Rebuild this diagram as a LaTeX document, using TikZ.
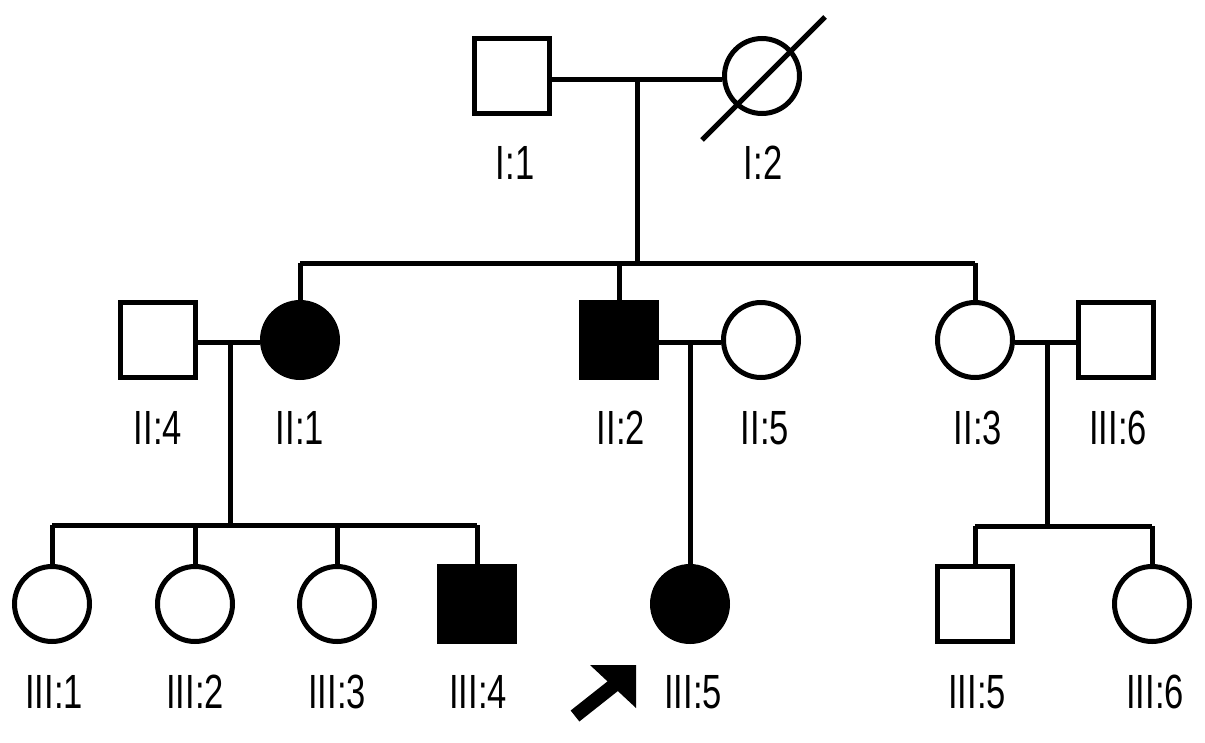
\documentclass[tikz,border=0pt]{standalone}
\usepackage{fontspec}
\setmainfont{Liberation Sans}
\usepackage{graphicx}
\begin{document}
\begin{tikzpicture}[x=1pt,y=-1pt,
  line width=5pt,
  male/.style={draw,rectangle,minimum size=75pt,inner sep=0pt,line width=5pt,fill=white},
  female/.style={draw,circle,minimum size=75pt,inner sep=0pt,line width=5pt,fill=white},
  aff/.style={fill=black},
  lbl/.style={inner sep=0pt,font=\fontsize{48}{48}\selectfont},
  link/.style={line width=5pt}]
\useasboundingbox (0,0) rectangle (1205,742);
% Generation I
\node[male] (I1) at (512,76) {};
\node[female] (I2) at (762,76) {};
\coordinate (d1) at (702,140);
\coordinate (d2) at (825,17);
\draw[link] (d1) -- (d2);
\node[lbl] (lI1) at (515,163) {\scalebox{0.72}[1]{I:1}};
\node[lbl] (lI2) at (763,163) {\scalebox{0.72}[1]{I:2}};
\coordinate (mI) at (637,79);
\coordinate (sII) at (637,263);
\draw[link] (I1.east |- mI) -- (I2.west |- mI);
\draw[link] (mI) -- (sII);
% Generation II
\node[male] (II4) at (158,340) {};
\node[female,aff] (II1) at (300,340) {};
\node[male,aff] (II2) at (619,340) {};
\node[female] (II5) at (761,340) {};
\node[female] (II3) at (975,340) {};
\node[male] (III6a) at (1116,340) {};
\node[lbl] (lII4) at (158,428) {\scalebox{0.72}[1]{II:4}};
\node[lbl] (lII1) at (300,428) {\scalebox{0.72}[1]{II:1}};
\node[lbl] (lII2) at (621,428) {\scalebox{0.72}[1]{II:2}};
\node[lbl] (lII5) at (765,428) {\scalebox{0.72}[1]{II:5}};
\node[lbl] (lII3) at (978,428) {\scalebox{0.72}[1]{II:3}};
\node[lbl] (lIII6a) at (1118,428) {\scalebox{0.72}[1]{III:6}};
\draw[link] (II1.north |- sII) -- (II3.north |- sII);
\draw[link] (II1.north |- sII) -- (II1.north);
\draw[link] (II2.north |- sII) -- (II2.north);
\draw[link] (II3.north |- sII) -- (II3.north);
% marriages gen II
\coordinate (mA) at (230,342);
\coordinate (sA) at (230,525);
\draw[link] (II4.east |- mA) -- (II1.west |- mA);
\draw[link] (mA) -- (sA);
\coordinate (mB) at (690,342);
\draw[link] (II2.east |- mB) -- (II5.west |- mB);
\coordinate (mC) at (1047,342);
\coordinate (sC) at (1047,526);
\draw[link] (II3.east |- mC) -- (III6a.west |- mC);
\draw[link] (mC) -- (sC);
% Generation III
\node[female] (III1) at (52,604) {};
\node[female] (III2) at (195,604) {};
\node[female] (III3) at (337,604) {};
\node[male,aff] (III4) at (477,604) {};
\node[female,aff] (III5p) at (690,604) {};
\node[male] (III5) at (975,604) {};
\node[female] (III6) at (1152,604) {};
\draw[link] (mB) -- (III5p.north);
\draw[link] (III1.north |- sA) -- (III4.north |- sA);
\foreach \n in {III1,III2,III3,III4}{\draw[link] (\n.north |- sA) -- (\n.north);}
\draw[link] (III5.north |- sC) -- (III6.north |- sC);
\foreach \n in {III5,III6}{\draw[link] (\n.north |- sC) -- (\n.north);}
\node[lbl] (lIII1) at (54,692) {\scalebox{0.72}[1]{III:1}};
\node[lbl] (lIII2) at (195,692) {\scalebox{0.72}[1]{III:2}};
\node[lbl] (lIII3) at (337,692) {\scalebox{0.72}[1]{III:3}};
\node[lbl] (lIII4) at (478,692) {\scalebox{0.72}[1]{III:4}};
\node[lbl] (lIII5p) at (693,692) {\scalebox{0.72}[1]{III:5}};
\node[lbl] (lIII5) at (977,692) {\scalebox{0.72}[1]{III:5}};
\node[lbl] (lIII6) at (1155,692) {\scalebox{0.72}[1]{III:6}};
% proband arrow
\coordinate (at) at (575,716);
\coordinate (ah) at (636,665);
\draw[line width=14pt] (at) -- (618,682);
\fill (ah) -- (590,665) -- (636,708) -- cycle;
\end{tikzpicture}
\end{document}
